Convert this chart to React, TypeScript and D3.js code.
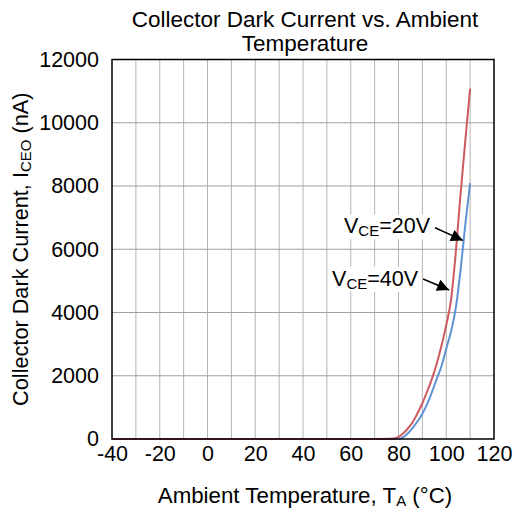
import * as d3 from 'd3';
import { useRef, useEffect } from 'react';

// --- Data ---
const xTicks = [-40, -20, 0, 20, 40, 60, 80, 100, 120];
const yTicks = [0, 2000, 4000, 6000, 8000, 10000, 12000];
const xGrid = d3.range(-30, 120, 10);

// VCE = 40V (red) : [temperature °C, current nA]
const red40V: [number, number][] = [
  [-40, 0], [70, 0], [77, 5], [80, 70], [82, 180], [84, 340], [86, 540],
  [88, 820], [90, 1130], [92, 1500], [94, 1900], [96, 2380], [98, 2950],
  [100, 3600], [102, 4400], [104, 5900], [106, 7750], [108, 9450], [110, 11080],
];

// VCE = 20V (blue)
const blue20V: [number, number][] = [
  [-40, 0], [72, 0], [80, 5], [82, 60], [84, 180], [86, 360], [88, 560],
  [90, 800], [92, 1100], [94, 1480], [96, 1900], [98, 2300], [100, 2850],
  [102, 3400], [104, 4150], [106, 5350], [108, 6800], [110, 8090],
];

// annotations: label anchor (text end), arrow start, arrow tip (data units)
const annLabels = ['20V', '40V'];
const annText: [number, number][] = [[93.2, 6740], [88.2, 5090]];
const annFrom: [number, number][] = [[95.3, 6680], [90.3, 5060]];
const annTip: [number, number][] = [[107.0, 6280], [101.2, 4710]];

export default function App() {
  const ref = useRef<SVGSVGElement>(null);

  useEffect(() => {
    const width = 514;
    const height = 512;
    const margin = { top: 59.5, right: 20, bottom: 73, left: 112 };
    const font = "'Liberation Sans', Arial, sans-serif";

    const x = d3.scaleLinear().domain([-40, 120]).range([margin.left, width - margin.right]);
    const y = d3.scaleLinear().domain([0, 12000]).range([height - margin.bottom, margin.top]);

    const svg = d3.select(ref.current)
      .attr('width', width)
      .attr('height', height)
      .attr('viewBox', `0 0 ${width} ${height}`)
      .style('font-family', font);

    svg.selectAll('*').remove();

    svg.append('rect').attr('width', width).attr('height', height).attr('fill', '#fff');

    // --- Grid ---
    svg.append('g')
      .selectAll('line')
      .data(xGrid)
      .join('line')
      .attr('x1', d => x(d)).attr('x2', d => x(d))
      .attr('y1', y(0)).attr('y2', y(12000))
      .attr('stroke', '#b4b4b4')
      .attr('stroke-width', 1);

    svg.append('g')
      .selectAll('line')
      .data(yTicks.slice(1, -1))
      .join('line')
      .attr('x1', x(-40)).attr('x2', x(120))
      .attr('y1', d => y(d)).attr('y2', d => y(d))
      .attr('stroke', '#a0a0a0')
      .attr('stroke-width', 1.2);

    // --- Curves ---
    const line = d3.line<[number, number]>()
      .x(d => x(d[0]))
      .y(d => y(d[1]))
      .curve(d3.curveMonotoneX);

    svg.append('path').datum(blue20V)
      .attr('d', line).attr('fill', 'none')
      .attr('stroke', '#5f93d6').attr('stroke-width', 2);

    svg.append('path').datum(red40V)
      .attr('d', line).attr('fill', 'none')
      .attr('stroke', '#cd5a60').attr('stroke-width', 2);

    // --- Frame ---
    svg.append('rect')
      .attr('x', x(-40)).attr('y', y(12000))
      .attr('width', x(120) - x(-40)).attr('height', y(0) - y(12000))
      .attr('fill', 'none').attr('stroke', '#000').attr('stroke-width', 1.5);

    // --- Axes ---
    svg.append('g')
      .attr('transform', `translate(0,${y(0)})`)
      .call(d3.axisBottom(x).tickValues(xTicks).tickFormat(d => String(d)).tickSize(0).tickPadding(7))
      .call(g => g.select('.domain').remove())
      .selectAll('text')
      .attr('font-family', font)
      .attr('font-size', 21.5)
      .attr('fill', '#000');

    svg.append('g')
      .attr('transform', `translate(${x(-40)},0)`)
      .call(d3.axisLeft(y).tickValues(yTicks).tickFormat(d => String(d)).tickSize(0).tickPadding(13))
      .call(g => g.select('.domain').remove())
      .selectAll('text')
      .attr('font-family', font)
      .attr('font-size', 21.5)
      .attr('fill', '#000');

    // --- Title ---
    const title = svg.append('text')
      .attr('text-anchor', 'middle')
      .attr('font-size', 22.5)
      .attr('fill', '#000');
    title.append('tspan').attr('x', 305).attr('y', 26.5).text('Collector Dark Current vs. Ambient');
    title.append('tspan').attr('x', 305).attr('y', 50.5).text('Temperature');

    // --- Axis titles ---
    const xt = svg.append('text')
      .attr('x', (x(-40) + x(120)) / 2 + 2)
      .attr('y', 503)
      .attr('text-anchor', 'middle')
      .attr('font-size', 22.3)
      .attr('fill', '#000');
    xt.append('tspan').text('Ambient Temperature, T');
    xt.append('tspan').attr('font-size', 15).attr('dy', 3).text('A');
    xt.append('tspan').attr('dy', -3).text(' (°C)');

    const yt = svg.append('text')
      .attr('transform', `translate(28,${(y(0) + y(12000)) / 2}) rotate(-90)`)
      .attr('text-anchor', 'middle')
      .attr('font-size', 21.7)
      .attr('fill', '#000');
    yt.append('tspan').text('Collector Dark Current, I');
    yt.append('tspan').attr('font-size', 15).attr('dy', 3).text('CEO');
    yt.append('tspan').attr('dy', -3).text(' (nA)');

    // --- Annotations ---
    svg.append('defs').append('marker')
      .attr('id', 'arrowHead')
      .attr('viewBox', '0 0 10 10')
      .attr('refX', 10).attr('refY', 5)
      .attr('markerWidth', 15).attr('markerHeight', 12)
      .attr('markerUnits', 'userSpaceOnUse')
      .attr('orient', 'auto')
      .append('path').attr('d', 'M0,0 L10,5 L0,10 Z').attr('fill', '#000');

    annLabels.forEach((lab, i) => {
      const g = svg.append('g');
      const t = g.append('text')
        .attr('x', x(annText[i][0]))
        .attr('y', y(annText[i][1]) + 7.5)
        .attr('text-anchor', 'end')
        .attr('font-size', 21.5)
        .attr('fill', '#000');
      t.append('tspan').text('V');
      t.append('tspan').attr('font-size', 15).attr('dy', 3).text('CE');
      t.append('tspan').attr('dy', -3).text('=' + lab);
      const bb = (t.node() as SVGTextElement).getBBox();
      g.insert('rect', 'text')
        .attr('x', bb.x - 1).attr('y', bb.y)
        .attr('width', bb.width + 2).attr('height', bb.height)
        .attr('fill', '#fff');
      g.append('line')
        .attr('x1', x(annFrom[i][0])).attr('y1', y(annFrom[i][1]))
        .attr('x2', x(annTip[i][0])).attr('y2', y(annTip[i][1]))
        .attr('stroke', '#000').attr('stroke-width', 1.5)
        .attr('marker-end', 'url(#arrowHead)');
    });
  }, []);

  return (
    <svg ref={ref} style={{ position: 'absolute', left: 0, top: 0, display: 'block' }}></svg>
  );
}
